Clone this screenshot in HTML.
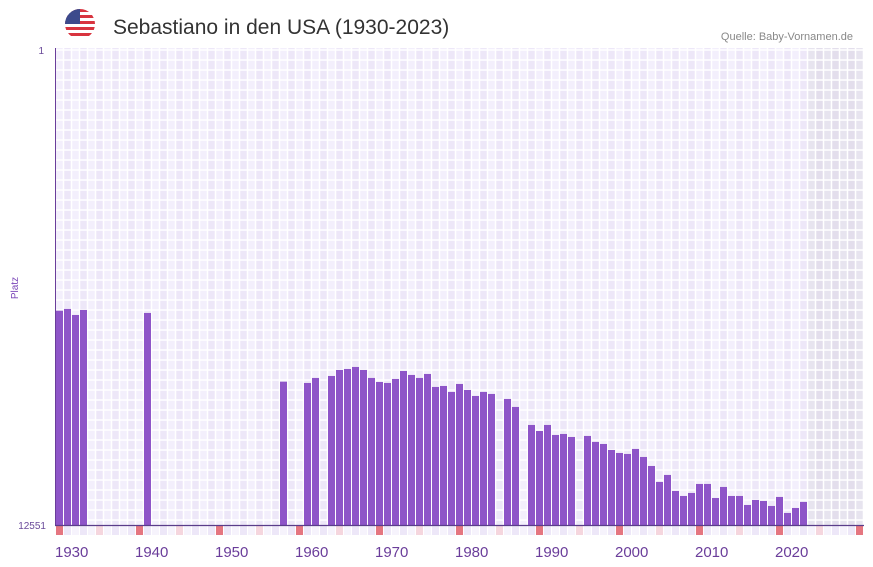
<!DOCTYPE html>
<html><head><meta charset="utf-8"><style>
body{margin:0;width:873px;height:567px;background:#fff;overflow:hidden;font-family:"Liberation Sans",sans-serif}
svg{display:block}
</style></head><body>
<svg id="c" width="873" height="567">
<g>
<clipPath id="fc"><circle cx="80" cy="24" r="15"/></clipPath>
<g clip-path="url(#fc)">
<rect x="65" y="9" width="30" height="30" fill="#fff"/>
<rect x="65" y="9" width="30" height="3" fill="#d8343f"/><rect x="65" y="15" width="30" height="3" fill="#d8343f"/><rect x="65" y="21" width="30" height="3" fill="#d8343f"/><rect x="65" y="27" width="30" height="3" fill="#d8343f"/><rect x="65" y="33" width="30" height="3" fill="#d8343f"/>
<rect x="65" y="9" width="15" height="15" fill="#3c4a8c"/>
</g></g>
<text x="113" y="34" font-size="21" fill="#333">Sebastiano in den USA (1930-2023)</text>
<text x="853" y="40" font-size="11" fill="#888" text-anchor="end">Quelle: Baby-Vornamen.de</text>
<text x="44" y="54" font-size="10" fill="#6a4a9a" text-anchor="end">1</text>
<text x="46" y="529" font-size="10" fill="#6a4a9a" text-anchor="end">12551</text>
<text x="0" y="0" font-size="10" fill="#7a45b8" transform="translate(18,288) rotate(-90)" text-anchor="middle">Platz</text>
<g id="bg"></g><g id="grid"></g><g id="bars"></g><g id="strip"></g><g id="xl"></g>
<line x1="55.5" y1="48" x2="55.5" y2="525" stroke="#6a3d9a" stroke-width="1"/>
<line x1="55" y1="525.5" x2="864" y2="525.5" stroke="#5a3d8a" stroke-width="1.2"/>
</svg>
<script>
const years=[1930,1931,1932,1933,1941,1958,1961,1962,1964,1965,1966,1967,1968,1969,1970,1971,1972,1973,1974,1975,1976,1977,1978,1979,1980,1981,1982,1983,1984,1986,1987,1989,1990,1991,1992,1993,1994,1996,1997,1998,1999,2000,2001,2002,2003,2004,2005,2006,2007,2008,2009,2010,2011,2012,2013,2014,2015,2016,2017,2018,2019,2020,2021,2022,2023];
const ranks=[6912,6867,7025,6893,6972,8780,8814,8682,8630,8472,8446,8393,8472,8682,8788,8814,8709,8498,8603,8682,8577,8919,8893,9051,8840,8998,9156,9051,9103,9235,9445,9919,10077,9919,10182,10156,10235,10208,10366,10419,10577,10656,10682,10550,10761,10998,11419,11234,11655,11787,11708,11471,11471,11840,11550,11787,11787,12024,11892,11918,12050,11813,12234,12103,11945];
const xTicks=[1930,1940,1950,1960,1970,1980,1990,2000,2010,2020];
const firstYear=1930,lastYear=2030,maxRank=12551,lastDataYear=2023;
const NS="http://www.w3.org/2000/svg";
const X0=56,SW=8,YT=48,YB=525;
const xs=y=>X0+(y-firstYear)*SW;
const ys=r=>YT+(r-1)/(maxRank-1)*(YB-YT);
function mk(t,a,p){const e=document.createElementNS(NS,t);for(const k in a)e.setAttribute(k,a[k]);p.appendChild(e);return e;}
const bg=document.getElementById('bg'),grid=document.getElementById('grid'),bars=document.getElementById('bars'),strip=document.getElementById('strip'),xl=document.getElementById('xl');
for(let y=firstYear;y<=lastYear;y++){
  const fut=y>lastDataYear;
  const c=fut?(y%2?'#e3deec':'#e7e4ef'):(y%2?'#ede7f8':'#f3effc');
  const r=mk('rect',{x:xs(y),y:YT,width:SW,height:YB-YT,fill:c},bg);
  
  
  let sc=y%10==0?'#e57680':(y%5==0?'#f5d6de':(y%2?'#ede7f8':'#f6f3fc'));
  const s=mk('rect',{x:xs(y),y:YB,width:SW-1,height:10,fill:sc},strip);
  
  
  const v=mk('line',{x1:xs(y)+SW-0.5,y1:YT,x2:xs(y)+SW-0.5,y2:YB,stroke:'#fff','stroke-width':1.5},grid);
  
  
}
for(let gy=YT+2;gy<YB;gy+=10){
  const h=mk('line',{x1:X0,y1:gy,x2:864,y2:gy,stroke:'#fff','stroke-width':1.5},grid);
  
  
}
years.forEach((y,i)=>{
  const top=ys(ranks[i]);
  const b=mk('rect',{x:xs(y),y:top,width:SW-1,height:YB-top,fill:'#8e55c8'},bars);
  
  
});
xTicks.forEach(t=>{
  const e=mk('text',{x:xs(t)-1,y:557,'font-size':15,fill:'#6a3d9a'},xl);
  e.textContent=t;
  
  
});
</script>
</body></html>
